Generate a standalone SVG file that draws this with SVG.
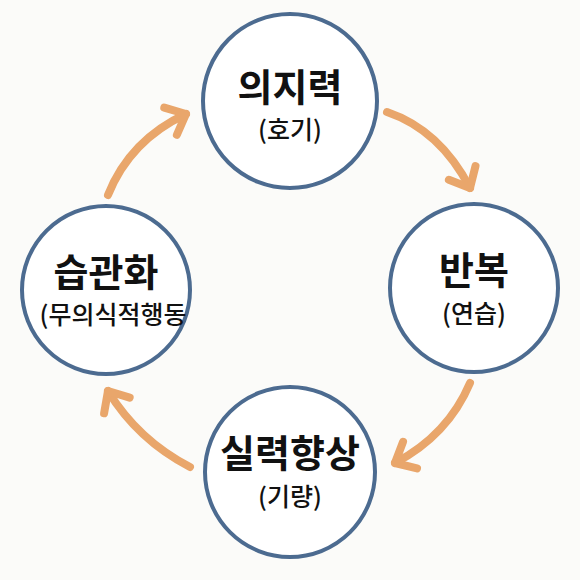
<svg xmlns="http://www.w3.org/2000/svg" width="580" height="580" viewBox="0 0 580 580">
<style>
.node{fill:#ffffff;stroke:#4c6b90;stroke-width:4}
.t{font-family:"Noto Sans CJK KR","Noto Sans",sans-serif;font-weight:700;font-size:38px;fill:#111;text-anchor:middle}
.s{font-family:"Noto Sans CJK KR","Noto Sans",sans-serif;font-weight:500;font-size:25px;fill:#111;text-anchor:middle}
.arr{fill:none;stroke:#e9a66b;stroke-width:8;stroke-linecap:round}
</style>
<defs>
<marker id="head" markerUnits="userSpaceOnUse" markerWidth="40" markerHeight="40" viewBox="-25 -20 40 40" refX="0" refY="0" orient="auto" overflow="visible">
<path d="M-17,-15 L0,0 L-17,15" fill="none" stroke="#e9a66b" stroke-width="8" stroke-linecap="round" stroke-linejoin="round"/>
</marker>
</defs>
<rect width="580" height="580" fill="#fbfbf9"/>
<g id="connectors">
<path class="arr" d="M387,112 Q440,130 470,188" marker-end="url(#head)"/>
<path class="arr" d="M470,383 Q448,435 395,463" marker-end="url(#head)"/>
<path class="arr" d="M190,467 Q138,440 108,391" marker-end="url(#head)"/>
<path class="arr" d="M108,195 Q130,140 186,114" marker-end="url(#head)"/>
</g>
<g id="n1"><circle class="node" cx="290" cy="101" r="87"/><text class="t" x="290" y="101">의지력</text><text class="s" x="290" y="139">(호기)</text></g>
<g id="n2"><circle class="node" cx="474" cy="288" r="84"/><text class="t" x="474" y="284">반복</text><text class="s" x="474" y="323">(연습)</text></g>
<g id="n3"><circle class="node" cx="290" cy="472" r="85"/><text class="t" x="290" y="467">실력향상</text><text class="s" x="290" y="506">(기량)</text></g>
<g id="n4"><circle class="node" cx="106" cy="290" r="84"/><text class="t" x="106" y="286">습관화</text><text class="s" x="113" y="324">(무의식적행동</text></g>
</svg>
